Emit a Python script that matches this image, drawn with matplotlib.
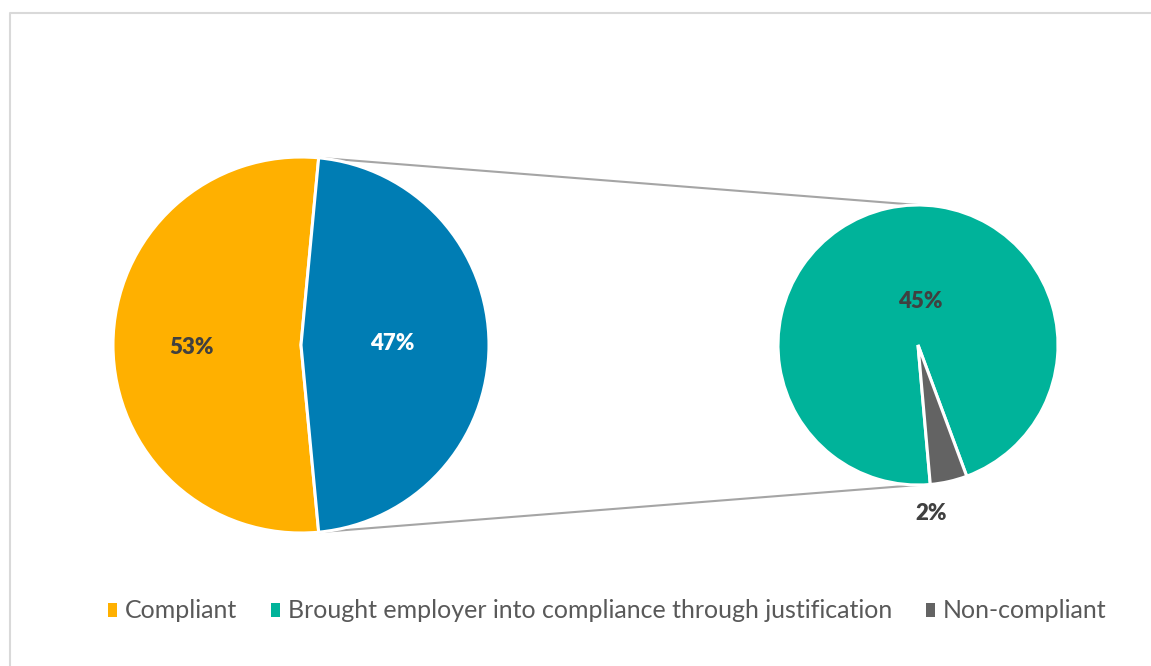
import numpy as np
import matplotlib
matplotlib.use('Agg')
import matplotlib.pyplot as plt
from matplotlib.patches import Patch
from matplotlib.lines import Line2D

# data
main_labels = ['Compliant', 'Brought employer into compliance through justification']
main_values = [53, 47]
sub_labels = ['Brought employer into compliance through justification', 'Non-compliant']
sub_values = [45, 2]
legend_labels = ['Compliant',
                 'Brought employer into compliance through justification',
                 'Non-compliant']

main_colors = ['#FFB000', '#007DB4']
sub_colors = ['#00B39A', '#636363']
legend_colors = ['#FFB000', '#00B39A', '#636363']

W, H = 1151, 666
plt.rcParams['font.family'] = ['Lato', 'DejaVu Sans']

fig = plt.figure(figsize=(W / 100, H / 100), dpi=100)
ax = fig.add_axes([0, 0, 1, 1])


def py(y):
    # pixel row -> data y
    return H - y


# left pie
c1 = (301, py(345))
r1 = 188
start1 = 360 * main_values[1] / sum(main_values) / 2
w1, _ = ax.pie(main_values, colors=main_colors, center=c1, radius=r1,
               startangle=start1, counterclock=True,
               wedgeprops=dict(edgecolor='white', linewidth=2.2),
               frame=True)

# right pie
c2 = (918, py(345))
r2 = 140
gray_mid = -77.3
start2 = gray_mid + 360 * sub_values[1] / sum(sub_values) / 2
w2, _ = ax.pie(sub_values, colors=sub_colors, center=c2, radius=r2,
               startangle=start2, counterclock=True,
               wedgeprops=dict(edgecolor='white', linewidth=2.2),
               frame=True)
ax.set_xlim(0, W)
ax.set_ylim(0, H)
ax.set_aspect('equal')
ax.axis('off')

# connectors from the blue wedge edges to the top/bottom of the right pie
blue = w1[1]
for ang, side in [(blue.theta2, 1), (blue.theta1, -1)]:
    x0 = c1[0] + r1 * np.cos(np.radians(ang))
    y0 = c1[1] + r1 * np.sin(np.radians(ang))
    ax.add_line(Line2D([x0, c2[0]], [y0, c2[1] + side * r2],
                       color='#A5A5A5', lw=1.5, zorder=0))

# value labels
lab_kw = dict(ha='center', va='center', fontsize=16, fontweight='heavy')
ax.text(191, py(348), f'{main_values[0]}%', color='#404040', **lab_kw)
ax.text(392, py(343), f'{main_values[1]}%', color='white', **lab_kw)
ax.text(920, py(302), f'{sub_values[0]}%', color='#404040', **lab_kw)
ax.text(931, py(513), f'{sub_values[1]}%', color='#404040', **lab_kw)

# chart border (top and left only visible)
ax.add_line(Line2D([10.5, 10.5, W + 5], [-5, py(12.5), py(12.5)],
                   color='#D9D9D9', lw=1.5))

handles = [Patch(facecolor=c, edgecolor='none') for c in legend_colors]
leg = ax.legend(handles, legend_labels, loc='center',
                bbox_to_anchor=(607 / W, 1 - 611 / H), ncol=3, frameon=False,
                fontsize=18, handlelength=0.38, handleheight=0.5,
                handletextpad=0.3, columnspacing=1.35, labelcolor='#595959',
                borderpad=0, borderaxespad=0)

fig.savefig('out.png', dpi=100)
